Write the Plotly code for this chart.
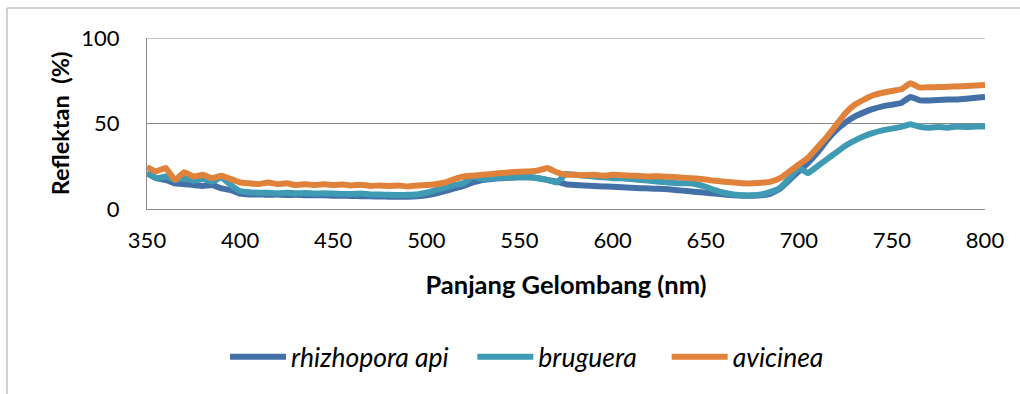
import plotly.graph_objects as go

wavelength = list(range(350, 801, 5))

rhizhopora_api = [
    21, 18, 17, 15, 14.5, 14, 13.5, 14, 12, 11,
    9, 8.5, 8.5, 8.3, 8.5, 8.2, 8.3, 8, 8, 8,
    7.8, 7.8, 7.6, 7.5, 7.4, 7.3, 7.2, 7.2, 7.2, 7.5,
    8, 9, 10.5, 12, 13.5, 15.5, 17, 17.5, 18, 18.3,
    18.5, 18.5, 18, 17, 16, 14.5, 14, 13.7, 13.5, 13.2,
    13, 12.7, 12.5, 12.2, 12, 11.8, 11.5, 11, 10.5, 10,
    9.5, 9, 8.5, 8, 7.8, 7.8, 8, 9, 12, 17,
    22, 27, 33, 40, 46, 50.5, 54, 56.5, 58.5, 60,
    61, 62, 65.5, 63.5, 63.5, 63.7, 64, 64, 64.5, 65,
    65.5,
]

bruguera = [
    21, 18, 19, 17, 18, 16.5, 17.5, 16, 18.5, 14,
    10.5, 9.8, 9.5, 9.5, 9.2, 9.5, 9.2, 9.3, 9, 9.2,
    9, 8.8, 8.8, 9, 8.5, 8.5, 8.3, 8.2, 8.3, 8.5,
    9.5, 11, 12.5, 14, 15, 19, 17.5, 18, 18.3, 18.5,
    18.5, 18.5, 18, 17, 15.5, 20.5, 20, 19.5, 19, 18.5,
    18, 18, 17.5, 17, 16.5, 16, 15.5, 15, 15, 14.5,
    13, 11, 9.5, 8.5, 8, 8, 8.5, 10, 12.5, 18,
    24, 21, 25, 29, 33, 37, 40, 42.5, 44.5, 46,
    47, 48, 49.5, 48, 47.5, 48, 47.5, 48.3, 48, 48.2,
    48.2,
]

avicinea = [
    24.5, 22, 24, 17, 21.5, 19, 20, 18, 19.5, 17.5,
    15.5, 15, 14.5, 15.5, 14.5, 15, 14, 14.5, 14, 14.5,
    14, 14.3, 13.8, 14.2, 13.5, 13.8, 13.5, 13.8, 13.2, 13.8,
    14, 14.5, 15.5, 17.5, 19, 19.5, 20, 20.5, 21, 21.5,
    21.8, 22, 22.5, 24, 21.5, 20, 20, 19.8, 20, 19.5,
    20, 19.8, 19.5, 19.3, 19, 19.2, 18.8, 18.5, 18.2, 17.8,
    17.2, 16.5, 16, 15.5, 15, 15, 15.3, 16, 18, 22,
    26, 30, 36, 42, 49, 56, 61, 64, 66.5, 68,
    69, 70, 73.5, 71, 71.2, 71.3, 71.5, 71.7, 72, 72.2,
    72.5,
]

series_names = ["rhizhopora api", "bruguera", "avicinea"]
series_values = [rhizhopora_api, bruguera, avicinea]
series_colors = ["#4470a8", "#3f9ab3", "#e0823a"]
legend_pad = ["\u00a0\u00a0\u00a0", "\u00a0\u00a0\u00a0\u00a0", ""]

x_ticks = [350, 400, 450, 500, 550, 600, 650, 700, 750, 800]
y_ticks = [0, 50, 100]

fig = go.Figure()
for name, vals, col, pad in zip(series_names, series_values, series_colors, legend_pad):
    fig.add_trace(go.Scatter(
        x=wavelength, y=vals, mode="lines", name=name + pad,
        line=dict(color=col, width=6, shape="spline", smoothing=0.3),
    ))

W, H = 1020, 394
L, R, T, B = 147, 35, 38, 185
pw, ph = W - L - R, H - T - B

fig.update_layout(
    width=W, height=H,
    margin=dict(l=L, r=R, t=T, b=B),
    paper_bgcolor="white", plot_bgcolor="white",
    font=dict(family="Lato, Open Sans, sans-serif", color="black"),
    showlegend=True,
    legend=dict(
        orientation="h", x=(225 - L) / pw, xanchor="left",
        y=1 - (357 - T) / ph, yanchor="middle",
        font=dict(size=26.5, style="italic", family="Lato, Open Sans, sans-serif"),
        itemwidth=56, tracegroupgap=0, bgcolor="rgba(0,0,0,0)",
    ),
    xaxis=dict(
        range=[350, 800], tickvals=x_ticks, showgrid=False,
        showline=True, linecolor="#8c8c8c", linewidth=1,
        ticks="", tickfont=dict(size=22), ticklabelstandoff=12,
        title=dict(text="<b>Panjang Gelombang (nm)</b>", font=dict(size=25.5), standoff=23),
        zeroline=False,
    ),
    yaxis=dict(
        range=[0, 100], tickvals=y_ticks, showgrid=True,
        gridcolor="#8c8c8c", gridwidth=1,
        showline=True, linecolor="#8c8c8c", linewidth=1,
        ticks="", tickfont=dict(size=22), ticklabelstandoff=22,
        title=dict(text="<b>Reflektan\u00a0\u00a0(%)</b>", font=dict(size=23.5), standoff=5),
        zeroline=False,
    ),
    shapes=[
        dict(
            type="rect", xref="paper", yref="paper",
            x0=(7 - L) / pw, x1=1.3, y0=-1.5, y1=1 + (T - 8) / ph,
            line=dict(color="#a6a6a6", width=1), fillcolor="rgba(0,0,0,0)", layer="below",
        ),
        dict(
            type="line", xref="paper", yref="y", x0=0, x1=1, y0=100, y1=100,
            line=dict(color="#8c8c8c", width=1), layer="below",
        ),
    ],
)

fig.write_html("out.html")
